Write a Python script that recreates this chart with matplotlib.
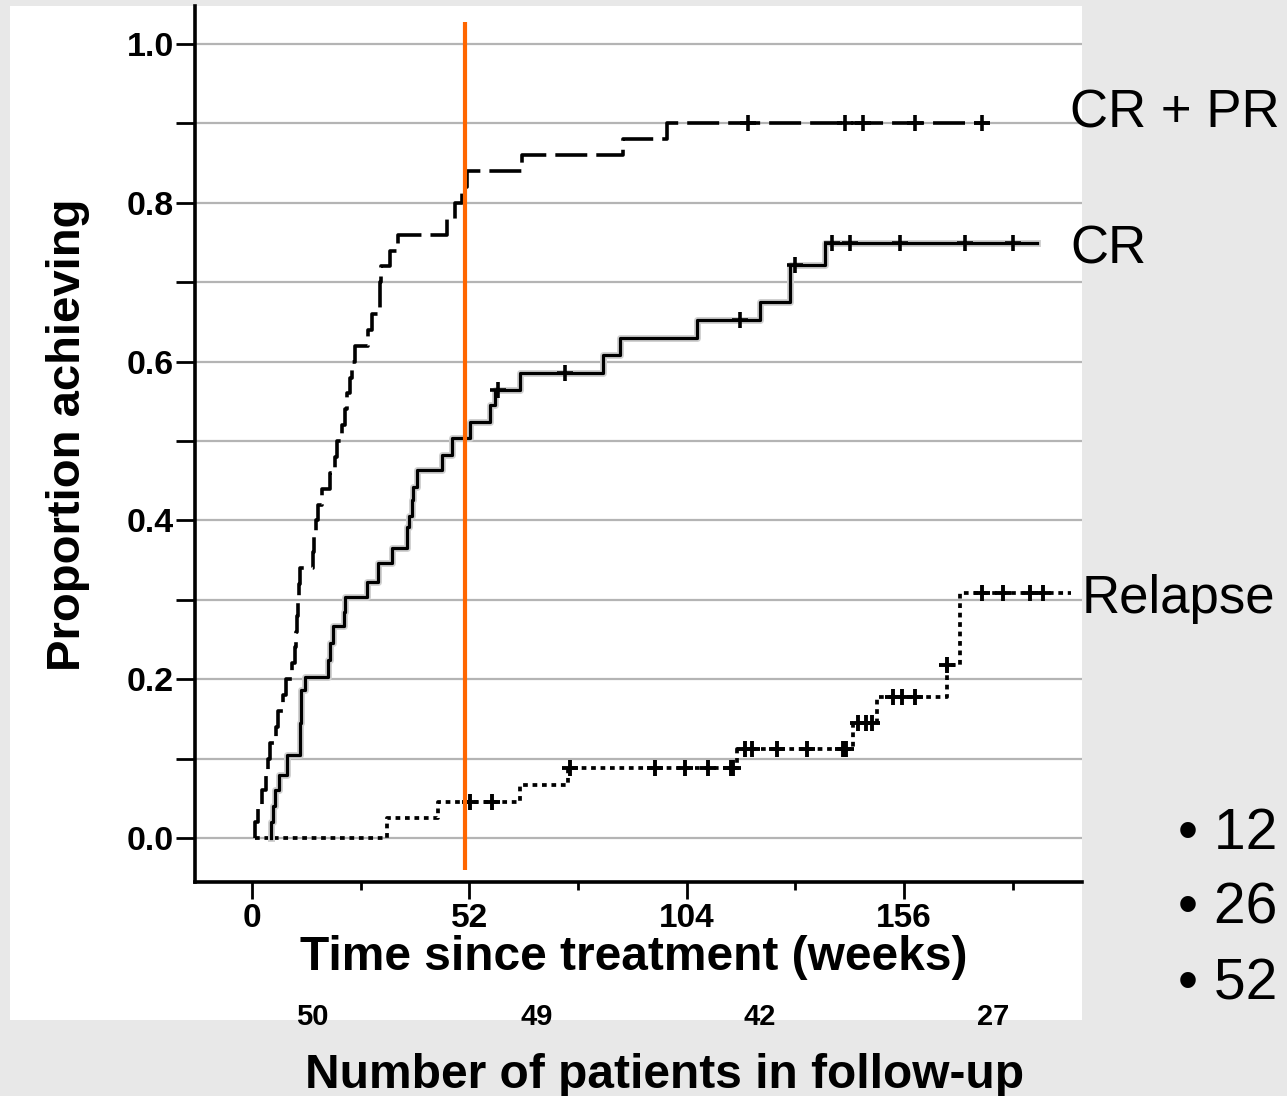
import numpy as np
import matplotlib
matplotlib.use("Agg")
import matplotlib.pyplot as plt
from matplotlib.patches import Rectangle
from matplotlib import patheffects as pe

plt.rcParams["font.family"] = ["Liberation Sans", "DejaVu Sans"]
plt.rcParams["lines.scale_dashes"] = False

# ---- data -------------------------------------------------------------
# CR + PR (cumulative proportion achieving response)
crpr_weeks = [0.7, 1.4, 2.4, 3.3, 3.8, 4.3, 5.7, 6.2, 7.4, 8.1, 9.6, 10.3, 10.5,
              10.8, 11.0, 11.2, 11.5, 14.6, 14.8, 15.3, 15.8, 16.7, 18.7, 19.9,
              20.3, 21.5, 22.2, 22.7, 23.4, 23.9, 24.6, 27.8, 28.7, 30.6, 30.7,
              30.9, 33.0, 34.9, 46.7, 48.6, 50.2, 51.4, 64.6, 88.8, 99.3]
crpr_prop = [0.02, 0.04, 0.06, 0.08, 0.10, 0.12, 0.14, 0.16, 0.18, 0.20, 0.22,
             0.24, 0.26, 0.28, 0.30, 0.32, 0.34, 0.36, 0.38, 0.40, 0.42, 0.44,
             0.46, 0.48, 0.50, 0.52, 0.54, 0.56, 0.58, 0.60, 0.62, 0.64, 0.66,
             0.68, 0.70, 0.72, 0.74, 0.76, 0.78, 0.80, 0.82, 0.84, 0.86, 0.88,
             0.90]
crpr_censored = [118.7, 141.9, 146.2, 158.6, 174.6]
crpr_end = 176.5

# CR
cr_weeks = [4.6, 5.0, 5.5, 6.5, 8.4, 11.5, 11.6, 11.7, 11.8, 12.7, 18.2, 18.7,
            19.4, 22.0, 22.2, 27.5, 30.1, 33.5, 37.1, 37.6, 38.3, 38.5, 39.5,
            45.5, 47.8, 52.2, 56.9, 58.1, 64.1, 84.0, 88.0, 106.5, 121.5,
            128.7, 128.8, 137.1]
cr_prop = [0.020, 0.040, 0.060, 0.080, 0.105, 0.125, 0.145, 0.165, 0.186,
           0.203, 0.224, 0.246, 0.267, 0.285, 0.304, 0.322, 0.346, 0.365,
           0.392, 0.405, 0.426, 0.442, 0.463, 0.482, 0.504, 0.524, 0.545,
           0.564, 0.586, 0.608, 0.630, 0.652, 0.675, 0.700, 0.722, 0.749]
cr_censored = [58.9, 74.9, 116.7, 129.9, 138.8, 143.1, 155.0, 170.6, 182.1]
cr_end = 187.8

# Relapse
rel_weeks = [32.3, 44.5, 64.1, 75.6, 116.0, 143.8, 149.5, 166.3, 169.4]
rel_prop = [0.025, 0.045, 0.067, 0.088, 0.112, 0.145, 0.178, 0.218, 0.309]
rel_censored = [52.2, 57.4, 76.1, 96.4, 103.6, 109.1, 114.6, 115.1, 117.9,
                119.6, 125.6, 132.8, 141.5, 142.1, 145.0, 146.9, 148.3, 153.3,
                155.5, 158.6, 166.3, 174.6, 179.7, 186.1, 189.2]
rel_start = 0.7
rel_end = 196.0

curve_labels = ["CR + PR", "CR", "Relapse"]
landmark_week = 51
x_major = [0, 52, 104, 156]
x_minor = [26, 78, 130, 182]
at_risk_counts = ["50", "49", "42", "27"]
bullets = ["\u2022 12", "\u2022 26", "\u2022 52"]

# ---- figure -----------------------------------------------------------
W, H = 1287, 1096
fig = plt.figure(figsize=(W / 100, H / 100), dpi=100, facecolor="#e8e8e8")


def fx(px):
    return px / W


def fy(py):
    return 1 - py / H


fig.patches.append(Rectangle((fx(10), fy(1020)), fx(1082) - fx(10),
                             fy(6) - fy(1020), transform=fig.transFigure,
                             facecolor="white", edgecolor="none", zorder=-10))

ax = fig.add_axes([fx(195), fy(882), fx(1082) - fx(195), fy(6) - fy(882)])
ax.set_zorder(2)
ax.set_facecolor("white")
ax.set_xlim(-13.64, 198.6)
ax.set_ylim(-0.0554, 1.048)


def step_xy(weeks, prop, end, start):
    xs = np.concatenate([[start], weeks, [end]])
    ys = np.concatenate([[0.0], prop, [prop[-1]]])
    return xs, ys


def censor_y(weeks, prop, cens):
    vals = np.concatenate([[0.0], prop])
    idx = np.searchsorted(weeks, cens, side="right")
    return vals[idx]


# relapse (dotted)
xs, ys = step_xy(rel_weeks, rel_prop, rel_end, rel_start)
ax.step(xs, ys, where="post", color="black", lw=2.7,
        linestyle=(0, (3.4, 3.4)), zorder=3)
ax.plot(rel_censored, censor_y(rel_weeks, rel_prop, rel_censored), "+",
        color="black", ms=11, mew=2.8, zorder=4)

# CR (solid)
xs, ys = step_xy(cr_weeks, cr_prop, cr_end, cr_weeks[0])
ax.step(xs, ys, where="post", color="black", lw=2.3, zorder=3,
        path_effects=[pe.withStroke(linewidth=5, foreground="#d0d0d0")])
ax.plot(cr_censored, censor_y(cr_weeks, cr_prop, cr_censored), "+",
        color="black", ms=11, mew=2.6, zorder=4)

# CR + PR (dashed)
xs, ys = step_xy(crpr_weeks, crpr_prop, crpr_end, crpr_weeks[0])
ax.step(xs, ys, where="post", color="black", lw=2.6,
        linestyle=(0, (23, 6.5)), zorder=3)
ax.plot(crpr_censored, censor_y(crpr_weeks, crpr_prop, crpr_censored), "+",
        color="black", ms=11, mew=2.6, zorder=4)

# landmark at one year
ax.plot([landmark_week, landmark_week], [-0.040, 1.028], color="#ff6600",
        lw=3, zorder=5, clip_on=False, solid_capstyle="butt")

# axes styling
ax.set_yticks(np.arange(0, 1.01, 0.2))
ax.set_yticks(np.arange(0, 1.01, 0.1), minor=True)
ax.set_yticklabels([f"{v:.1f}" for v in np.arange(0, 1.01, 0.2)])
ax.set_xticks(x_major)
ax.set_xticks(x_minor, minor=True)
ax.set_xticklabels([str(v) for v in x_major])
ax.grid(axis="y", which="both", color="#b4b4b4", lw=1.6, zorder=1)
ax.set_axisbelow(True)
ax.tick_params(axis="y", which="both", length=14, width=2, pad=1,
               labelsize=24.5)
ax.tick_params(axis="x", which="major", length=12, width=2, pad=3,
               labelsize=24)
ax.tick_params(axis="x", which="minor", length=6, width=2)
for lbl in ax.get_xticklabels() + ax.get_yticklabels():
    lbl.set_fontweight("bold")
for side in ("top", "right"):
    ax.spines[side].set_visible(False)
for side in ("left", "bottom"):
    ax.spines[side].set_linewidth(2.6)

# curve names on the right
fig.text(fx(1070), fy(127), curve_labels[0], fontsize=38, ha="left",
         va="baseline")
fig.text(fx(1070), fy(264), curve_labels[1], fontsize=38, ha="left",
         va="baseline")
fig.text(fx(1082), fy(613), curve_labels[2], fontsize=38, ha="left",
         va="baseline")

# axis titles
fig.text(fx(68), fy(435), "Proportion achieving", rotation=90, fontsize=34,
         fontweight="bold", ha="center", va="center")
fig.text(fx(634), fy(970), "Time since treatment (weeks)", fontsize=34.5,
         fontweight="bold", ha="center", va="baseline")

# patients in follow-up
for px, txt in zip([312, 537, 760, 993], at_risk_counts):
    fig.text(fx(px), fy(1025), txt, fontsize=21, fontweight="bold",
             ha="center", va="baseline")
fig.text(fx(665), fy(1088), "Number of patients in follow-up", fontsize=34.5,
         fontweight="bold", ha="center", va="baseline")

# bullet list
for py, txt in zip([849, 924, 999], bullets):
    fig.text(fx(1178), fy(py), txt, fontsize=41, ha="left", va="baseline")

fig.savefig("out.png", dpi=100, facecolor=fig.get_facecolor())
